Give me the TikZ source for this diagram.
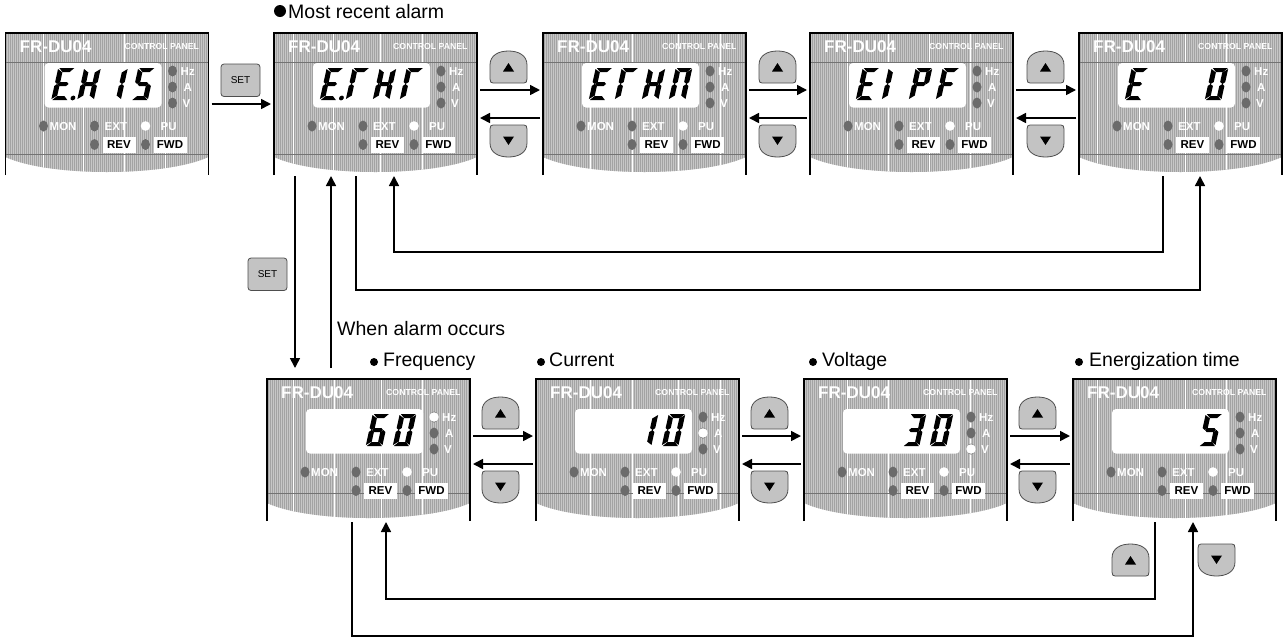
\documentclass[tikz,border=0pt]{standalone}
\usepackage{fontspec}
\setmainfont{Liberation Sans}
\usetikzlibrary{arrows.meta,patterns.meta}

\tikzset{
  flow/.style={line width=1.6pt,-{Triangle[length=10pt,width=10pt]}},
  panelnode/.style={minimum width=203pt,minimum height=142pt,inner sep=0pt,outer sep=0pt},
  panelshape/.style={insert path={(0,0)--(203,0)--(203,124) .. controls (160,144) and (43,144) .. (0,124)--cycle}},
  panellabel/.style={white,inner sep=0pt,anchor=base west,font=\bfseries\fontsize{11.5}{12}\selectfont},
  flag/.style={fill=white,inner sep=0pt,minimum width=33pt,minimum height=16pt,font=\bfseries\fontsize{11.5}{12}\selectfont},
  caption/.style={inner sep=0pt,anchor=base west,font=\fontsize{19.5}{22}\selectfont},
  keyface/.style={fill=black!20,draw=black!70,line width=.8pt},
  keydots/.style={pattern={Dots[distance=2pt,radius=.45pt]},pattern color=black!60},
  % digit segments, upright; the scope slants them
  seg/.style={},
  sega/.style={insert path={(.8,32)--(15.8,32)--(12,28)--(4.8,28)--cycle}},
  segb/.style={insert path={(16.3,31)--(16.3,18)--(14,16)--(11.2,18)--(11.2,27.5)--cycle}},
  segc/.style={insert path={(16.3,1)--(16.3,14)--(14,16)--(11.2,14)--(11.2,4.5)--cycle}},
  segd/.style={insert path={(.8,0)--(15.8,0)--(12,4)--(4.8,4)--cycle}},
  sege/.style={insert path={(-.3,1)--(-.3,14)--(2,16)--(4.8,14)--(4.8,4.5)--cycle}},
  segf/.style={insert path={(-.3,31)--(-.3,18)--(2,16)--(4.8,18)--(4.8,27.5)--cycle}},
  segg/.style={insert path={(2.5,16)--(4.5,18)--(11.5,18)--(13.5,16)--(11.5,14)--(4.5,14)--cycle}},
  segp/.style={insert path={(21,2) circle (2.4)}},
  segn/.style={},
}

% one digit: offset in the panel, list of segments
\newcommand{\segdigit}[2]{
  \begin{scope}[shift={(#1,67)},x=1pt,y=1pt,xslant=.22]
    \foreach \s in {#2} {\fill[seg\s];}
  \end{scope}
}

% panel: name, x, y, white lines, grey lines, four digits
\newcommand{\fpanel}[9]{
  \node[panelnode,anchor=north west] (#1) at (#2,#3) {};
  \begin{scope}[shift={(#2,#3)}]
    \fill[black!22,panelshape];
    \fill[pattern={Lines[angle=90,distance=2pt,line width=.7pt]},pattern color=black!36,panelshape];
    \begin{scope}
      \clip[panelshape];
      \foreach \vx in {#4} {\draw[white,line width=.8pt] (\vx,0) -- (\vx,142);}
      \foreach \hy in {#5} {\draw[black!55,line width=.5pt] (0,\hy) -- (203,\hy);}
    \end{scope}
    \draw[line width=1.6pt] (0,142) -- (0,0) -- (203,0) -- (203,142);
    % display
    \fill[white,rounded corners=4pt] (39,30) rectangle (156,74.5);
    \segdigit{46}{#6}
    \segdigit{72}{#7}
    \segdigit{99}{#8}
    \segdigit{126}{#9}
    % lamps
    \foreach \lx/\ly in {167/38,167/54,167/70,38/93,89/93,89/111.5,140/111.5}
      {\fill[black!58] (\lx,\ly) ellipse (4.5 and 5.5);}
    \fill[white] (140,93) circle (4.8);
    % labels
    \node[panellabel,font=\bfseries\fontsize{17}{18}\selectfont] (#1-name) at (14,19) {FR-DU04};
    \node[panellabel,font=\bfseries\fontsize{8.7}{9}\selectfont] (#1-ctrl) at (119,16) {CONTROL PANEL};
    \node[panellabel] (#1-hz) at (175,42) {Hz};
    \node[panellabel] (#1-a) at (178,58) {A};
    \node[panellabel] (#1-v) at (177,74) {V};
    \node[panellabel] (#1-mon) at (44,97) {MON};
    \node[panellabel] (#1-ext) at (99,97) {EXT};
    \node[panellabel] (#1-pu) at (155,97) {PU};
    \node[flag] (#1-rev) at (113.5,111.5) {REV};
    \node[flag] (#1-fwd) at (164.5,111.5) {FWD};
  \end{scope}
}

% keys: x, y of the top left corner
\newcommand{\upkey}[2]{
  \begin{scope}[shift={(#1,#2)}]
    \path[keyface] (0,28) -- (0,14) .. controls (0,4) and (9,0) .. (18.5,0) .. controls (28,0) and (37,4) .. (37,14) -- (37,28) .. controls (37,31) and (36,32) .. (34,32) -- (3,32) .. controls (1,32) and (0,31) .. (0,28) -- cycle;
    \path[keydots] (0,28) -- (0,14) .. controls (0,4) and (9,0) .. (18.5,0) .. controls (28,0) and (37,4) .. (37,14) -- (37,28) .. controls (37,31) and (36,32) .. (34,32) -- (3,32) .. controls (1,32) and (0,31) .. (0,28) -- cycle;
    \fill (13,20.5) -- (24,20.5) -- (18.5,12) -- cycle;
  \end{scope}
}
\newcommand{\downkey}[2]{
  \begin{scope}[shift={(#1,#2)}]
    \path[keyface] (0,4) -- (0,18) .. controls (0,28) and (9,32) .. (18.5,32) .. controls (28,32) and (37,28) .. (37,18) -- (37,4) .. controls (37,1) and (36,0) .. (34,0) -- (3,0) .. controls (1,0) and (0,1) .. (0,4) -- cycle;
    \path[keydots] (0,4) -- (0,18) .. controls (0,28) and (9,32) .. (18.5,32) .. controls (28,32) and (37,28) .. (37,18) -- (37,4) .. controls (37,1) and (36,0) .. (34,0) -- (3,0) .. controls (1,0) and (0,1) .. (0,4) -- cycle;
    \fill (13,11.5) -- (24,11.5) -- (18.5,20) -- cycle;
  \end{scope}
}
\newcommand{\setkey}[3]{
  \path[keyface,rounded corners=3pt] (#2,#3) rectangle ++(39,32.5);
  \path[keydots,rounded corners=3pt] (#2,#3) rectangle ++(39,32.5);
  \node[inner sep=0pt,font=\fontsize{10}{10}\selectfont] (#1) at (#2+19.5,#3+16) {SET};
}

\begin{document}
\begin{tikzpicture}[x=1pt,y=-1pt]
  \useasboundingbox (0,0) rectangle (1283,638);

  % Upper row
  \fpanel{p1}{5.5}{33}{37.5,78,119,160}{29,121}{a,d,e,f,g,p}{b,c,e,f,g}{b,c}{a,c,d,f,g}
  \fpanel{p2}{274}{33}{19,59,106,148}{29,121}{a,d,e,f,g,p}{a,e,f}{b,c,e,f,g}{a,e,f}
  \fpanel{p3}{543}{33}{47,89,135,177}{29,121}{a,d,e,f,g}{a,e,f}{b,c,e,f,g}{a,b,c,e,f}
  \fpanel{p4}{810}{33}{37,78,119,160}{29,121}{a,d,e,f,g}{e,f}{a,b,e,f,g}{a,e,f,g}
  \fpanel{p5}{1079}{33}{18,60,106,147}{29,121}{a,d,e,f,g}{n}{n}{a,b,c,d,e,f}

  % Lower row
  \fpanel{q1}{267}{379}{26,67,114,155}{114}{n}{n}{a,c,d,e,f,g}{a,b,c,d,e,f}
  \fpanel{q2}{536}{379}{54,96,142,184}{114}{n}{n}{b,c}{a,b,c,d,e,f}
  \fpanel{q3}{804}{379}{43,84,125,166}{114}{n}{n}{a,b,c,d,g}{a,b,c,d,e,f}
  \fpanel{q4}{1073}{379}{24,66,112,153}{114}{n}{n}{n}{a,c,d,f,g}

  % Lit lamps
  \fill[white] ([shift={(167pt,-38pt)}]q1.north west) circle (4.8);
  \fill[white] ([shift={(167pt,-54pt)}]q2.north west) circle (4.8);
  \fill[white] ([shift={(167pt,-70pt)}]q3.north west) circle (4.8);

  % Keys
  \setkey{set1}{221}{64}
  \setkey{set2}{248}{258}
  \foreach \kx in {490,759,1027} {\upkey{\kx}{51} \downkey{\kx}{125}}
  \foreach \kx in {482,751,1019} {\upkey{\kx}{397} \downkey{\kx}{471}}
  \upkey{1112}{544}
  \downkey{1198}{544}

  % Arrows along the rows
  \draw[flow,shorten <=3pt,shorten >=3pt] (p1) -- (p2);
  \foreach \a/\b in {p2/p3,p3/p4,p4/p5,q1/q2,q2/q3,q3/q4} {
    \draw[flow,shorten <=3pt,shorten >=3pt] ([yshift=14pt]\a.east) -- ([yshift=14pt]\b.west);
    \draw[flow,shorten <=3pt,shorten >=3pt] ([yshift=-14pt]\b.west) -- ([yshift=-14pt]\a.east);
  }

  % Between the rows
  \draw[flow] ([xshift=21pt,yshift=-1pt]p2.south west) -- ([xshift=28pt,yshift=11pt]q1.north west);
  \draw[flow] ([xshift=64pt,yshift=11pt]q1.north west) -- ([xshift=57pt,yshift=-1pt]p2.south west);
  \coordinate (back1) at ([xshift=82pt,yshift=-1pt]p2.south west);
  \coordinate (back2) at ([xshift=121pt,yshift=-1pt]p5.south west);
  \coordinate (back3) at ([xshift=84pt,yshift=-1pt]p5.south west);
  \coordinate (back4) at ([xshift=120pt,yshift=-1pt]p2.south west);
  \draw[flow] (back1) -- ++(0,114) -| (back2);
  \draw[flow] (back3) -- ++(0,76) -| (back4);

  % Below the lower row
  \coordinate (low1) at ([xshift=85pt,yshift=-1pt]q1.south west);
  \coordinate (low2) at ([xshift=120pt,yshift=-1pt]q4.south west);
  \coordinate (low3) at ([xshift=82pt,yshift=-1pt]q4.south west);
  \coordinate (low4) at ([xshift=119pt,yshift=-1pt]q1.south west);
  \draw[flow] (low1) -- ++(0,114) -| (low2);
  \draw[flow] (low3) -- ++(0,77) -| (low4);

  % Captions
  \fill (280,11) circle (6);
  \node[caption] (recent) at (288,18) {Most recent alarm};
  \node[caption] (occurs) at (337,335) {When alarm occurs};
  \fill (374,362) circle (4);
  \node[caption] (freq) at (383,366) {Frequency};
  \fill (541,362) circle (4);
  \node[caption] (curr) at (549,366) {Current};
  \fill (813,362) circle (4);
  \node[caption] (volt) at (822,366) {Voltage};
  \fill (1079,362) circle (4);
  \node[caption] (etime) at (1089,366) {Energization time};
\end{tikzpicture}
\end{document}
